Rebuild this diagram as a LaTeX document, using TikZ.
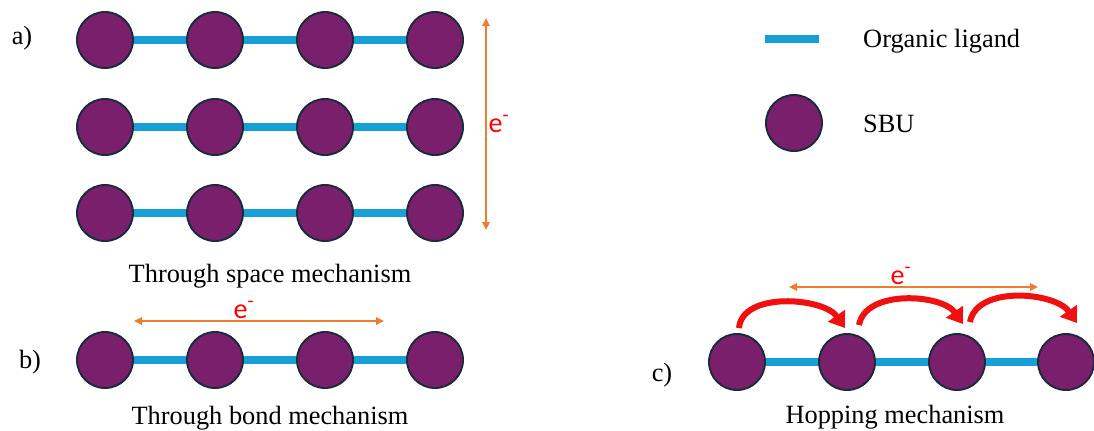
\documentclass[tikz,border=0pt]{standalone}
\usepackage{fontspec}
\setmainfont{Liberation Serif}
\newfontfamily\elfont{Carlito}
\usetikzlibrary{arrows.meta,backgrounds}
\definecolor{sbu}{HTML}{7A1F6B}
\definecolor{rim}{HTML}{1C2B3B}
\definecolor{ligcol}{HTML}{17A0D6}
\definecolor{flow}{HTML}{ED7D31}
\definecolor{hopred}{HTML}{F01010}
\tikzset{
  every node/.style={font=\fontsize{15}{17}\selectfont,text=black},
  sbubox/.style={circle,draw=rim,line width=1.1pt,fill=sbu,minimum size=11.2mm,inner sep=0pt},
  ligand/.style={draw=ligcol,line width=1.6mm},
  elec/.style={{Triangle[length=1.6mm,width=1.5mm]}-{Triangle[length=1.6mm,width=1.5mm]},draw=flow,line width=0.35mm},
  hop/.style={-{Triangle[length=3mm,width=4mm]},draw=hopred,line width=1.2mm},
  eminus/.style={font=\elfont\fontsize{16}{17}\selectfont,text=red,inner sep=1pt},
  caption/.style={anchor=base},
  tag/.style={anchor=base},
}

\begin{document}
\begin{tikzpicture}[x=0.2mm,y=-0.2mm]
  \useasboundingbox (0,0) rectangle (1094,430);

  % a) through space
  \node[tag] (taga) at (22,44) {a)};
  \node[sbubox] (s11) at (105,40) {};
  \node[sbubox] (s12) at (215,40) {};
  \node[sbubox] (s13) at (325,40) {};
  \node[sbubox] (s14) at (435,40) {};
  \node[sbubox] (s21) at (105,127) {};
  \node[sbubox] (s22) at (215,127) {};
  \node[sbubox] (s23) at (325,127) {};
  \node[sbubox] (s24) at (435,127) {};
  \node[sbubox] (s31) at (105,213) {};
  \node[sbubox] (s32) at (215,213) {};
  \node[sbubox] (s33) at (325,213) {};
  \node[sbubox] (s34) at (435,213) {};
  \begin{scope}[on background layer]
    \draw[ligand] (s11) -- (s12) -- (s13) -- (s14);
    \draw[ligand] (s21) -- (s22) -- (s23) -- (s24);
    \draw[ligand] (s31) -- (s32) -- (s33) -- (s34);
  \end{scope}
  \coordinate (vtop) at (486,18);
  \coordinate (vbot) at (486,230);
  \draw[elec] (vtop) -- node[right,eminus] {e\textsuperscript{-}} (vbot);
  \node[caption] (capa) at (270,282) {Through space mechanism};

  % b) through bond
  \node[tag] (tagb) at (30,368) {b)};
  \node[sbubox] (b1) at (105,360) {};
  \node[sbubox] (b2) at (215,360) {};
  \node[sbubox] (b3) at (325,360) {};
  \node[sbubox] (b4) at (435,360) {};
  \begin{scope}[on background layer]
    \draw[ligand] (b1) -- (b2) -- (b3) -- (b4);
  \end{scope}
  \coordinate (bl) at (134,321);
  \coordinate (br) at (384,321);
  \draw[elec] (bl) -- node[pos=0.44,above,eminus] {e\textsuperscript{-}} (br);
  \node[caption] (capb) at (270,424) {Through bond mechanism};

  % c) hopping
  \node[tag] (tagc) at (662,381) {c)};
  \node[sbubox] (h1) at (737,362) {};
  \node[sbubox] (h2) at (847,362) {};
  \node[sbubox] (h3) at (957,362) {};
  \node[sbubox] (h4) at (1066,362) {};
  \begin{scope}[on background layer]
    \draw[ligand] (h1) -- (h2) -- (h3) -- (h4);
  \end{scope}
  \coordinate (hl) at (789,287);
  \coordinate (hr) at (1038,287);
  \draw[elec] (hl) -- node[pos=0.45,above,eminus] {e\textsuperscript{-}} (hr);
  \draw[hop] ([shift={(0.4mm,1mm)}]h1.north) to[out=85,in=125,looseness=0.9] ([shift={(-0.4mm,1mm)}]h2.north);
  \draw[hop] ([shift={(2.4mm,1.6mm)}]h2.north) to[out=80,in=125,looseness=0.9] ([shift={(1.2mm,1.8mm)}]h3.north);
  \draw[hop] ([shift={(2.6mm,2.2mm)}]h3.north) to[out=80,in=125,looseness=0.9] ([shift={(2.2mm,2mm)}]h4.north);
  \node[caption] (capc) at (895,423) {Hopping mechanism};

  % legend
  \coordinate (legl) at (765,39);
  \coordinate (legr) at (819,39);
  \draw[ligand] (legl) -- (legr);
  \node[anchor=base west] (legtxt) at (857,47) {Organic ligand};
  \node[sbubox] (legsbu) at (794,123) {};
  \node[anchor=base west] (sbutxt) at (857,132) {SBU};
\end{tikzpicture}
\end{document}
